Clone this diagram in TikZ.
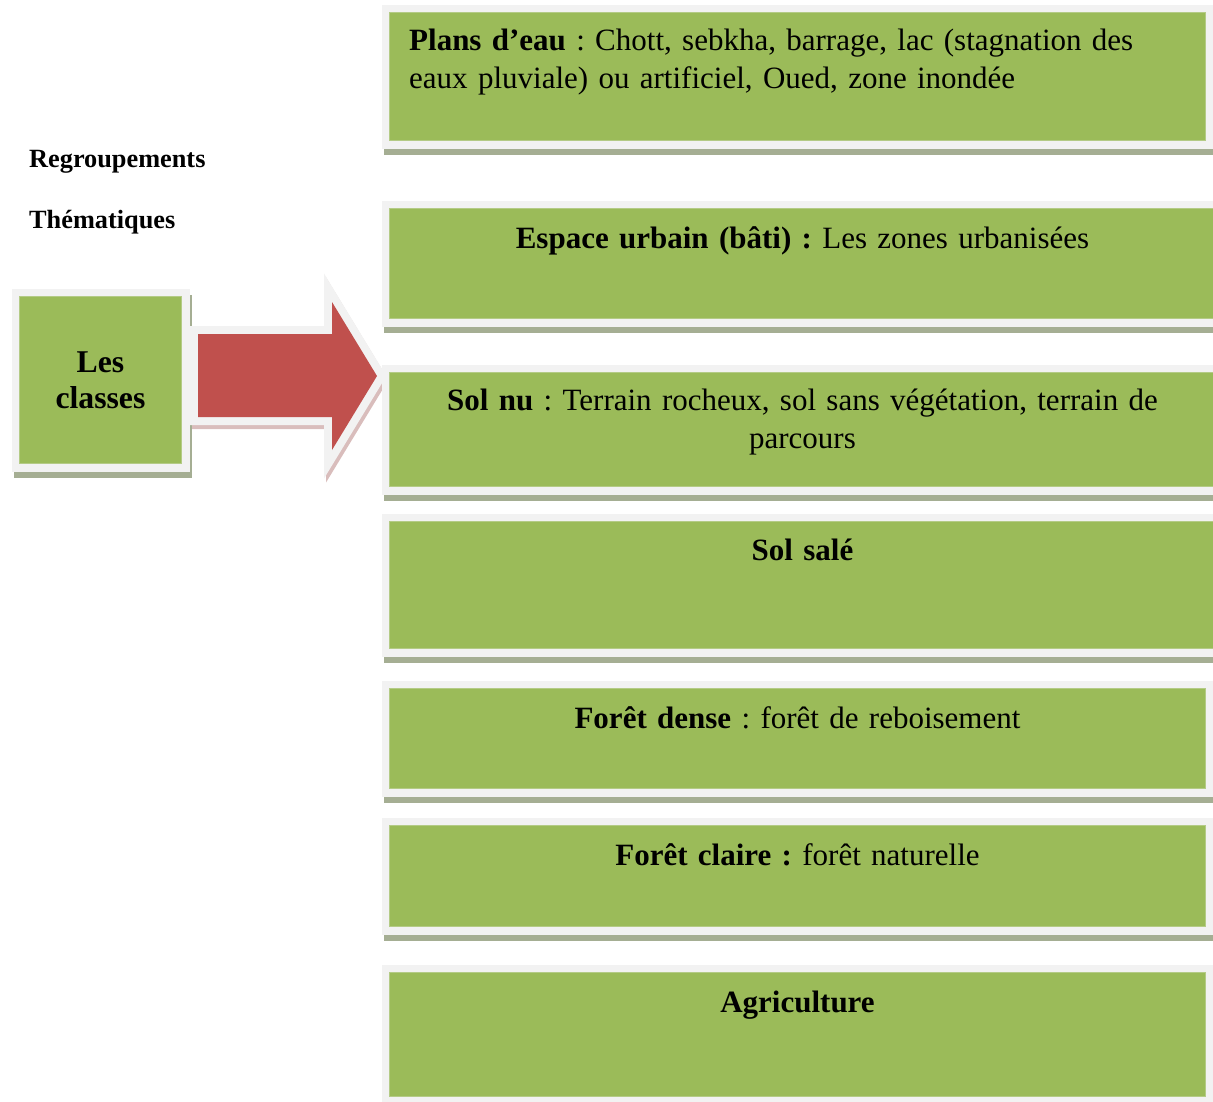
\documentclass[tikz,border=0pt]{standalone}
\usepackage{fontspec}
\setmainfont{Liberation Serif}
\frenchspacing
\usetikzlibrary{positioning}
\definecolor{Olive}{HTML}{9BBB59}
\definecolor{OliveEdge}{HTML}{B4CB86}
\definecolor{Frame}{HTML}{F2F2F2}
\definecolor{Shade}{HTML}{A5AE93}
\definecolor{Brick}{HTML}{C0504D}
\definecolor{BrickShade}{HTML}{D9BDBC}

\tikzset{
  classe/.style={anchor=north west, inner sep=0pt, fill=Olive, draw=OliveEdge, line width=1pt,
    preaction={draw=Shade, fill=Shade, line width=16pt, transform canvas={xshift=2pt,yshift=-6pt}},
    preaction={draw=Frame, fill=Frame, line width=16pt}},
  fleche/.style={fill=Brick,
    preaction={draw=BrickShade, fill=BrickShade, line width=16pt, transform canvas={xshift=2pt,yshift=-4pt}},
    preaction={draw=Frame, fill=Frame, line width=16pt}},
  texte/.style={font=\fontsize{31}{38}\selectfont, inner sep=0pt, anchor=base, align=center, text width=800pt},
  titre/.style={font=\fontsize{26.3}{30}\selectfont\bfseries, inner sep=0pt, anchor=base west}
}

\begin{document}
\begin{tikzpicture}[x=1pt,y=-1pt]
  \clip (0,0) rectangle (1213,1101);

  % left side
  \node[titre] (regroup) at (29,167) {Regroupements};
  \node[titre] (themes) at (29,228) {Thématiques};
  \node[classe, minimum width=162pt, minimum height=167pt, align=center,
        font=\fontsize{31.7}{36}\selectfont\bfseries] (classes) at (19,296) {Les\\classes};

  % block arrow
  \path[fleche] (198,334) -- (332,334) -- (332,302) -- (377,376) -- (332,450) -- (332,417) -- (198,417) -- cycle;

  % the seven groups
  \node[classe, minimum width=816pt, minimum height=128pt] (eau) at (389,12) {};
  \node[classe, minimum width=826pt, minimum height=110pt] (urbain) at (389,208) {};
  \node[classe, minimum width=826pt, minimum height=114pt] (solnu) at (389,372) {};
  \node[classe, minimum width=826pt, minimum height=127pt] (solsale) at (389,521) {};
  \node[classe, minimum width=816pt, minimum height=100pt] (dense) at (389,688) {};
  \node[classe, minimum width=816pt, minimum height=101pt] (claire) at (389,825) {};
  \node[classe, minimum width=816pt, minimum height=124pt] (agri) at (389,972) {};

  \node[texte, anchor=base west, align=left] (teau) at ([xshift=20pt,yshift=-38pt]eau.north west)
    {\textbf{Plans d’eau} : Chott, sebkha, barrage, lac (stagnation des\\eaux pluviale) ou artificiel, Oued, zone inondée};
  \node[texte] (turbain) at ([yshift=-40pt]urbain.north) {\textbf{Espace urbain (bâti) :} Les zones urbanisées};
  \node[texte] (tsolnu) at ([yshift=-38pt]solnu.north)
    {\textbf{Sol nu} : Terrain rocheux, sol sans végétation, terrain de\\parcours};
  \node[texte] (tsolsale) at ([yshift=-39pt]solsale.north) {\textbf{Sol salé}};
  \node[texte] (tdense) at ([yshift=-40pt]dense.north) {\textbf{Forêt dense} : forêt de reboisement};
  \node[texte] (tclaire) at ([yshift=-40pt]claire.north) {\textbf{Forêt claire :} forêt naturelle};
  \node[texte] (tagri) at ([yshift=-40pt]agri.north) {\textbf{Agriculture}};
\end{tikzpicture}
\end{document}
